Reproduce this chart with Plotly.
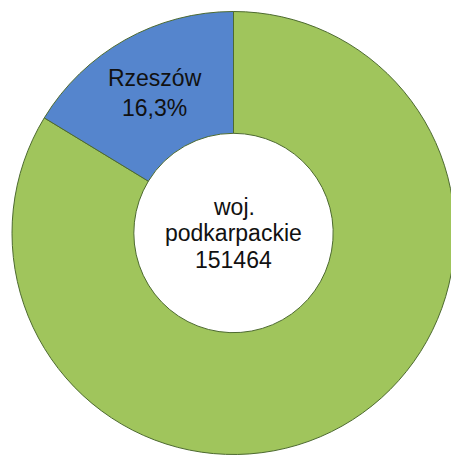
import plotly.graph_objects as go

labels = ["pozostałe", "Rzeszów"]
shares = [83.7, 16.3]
share_labels = ["", "Rzeszów<br>16,3%"]
center_lines = ["woj.", "podkarpackie", "151464"]
colors = ["#A0C55C", "#5585CD"]

FONT = "Liberation Sans, Arial, sans-serif"

fig = go.Figure(go.Pie(
    labels=labels,
    values=shares,
    text=share_labels,
    textinfo="text",
    textposition="inside",
    insidetextorientation="horizontal",
    hole=0.45,
    sort=False,
    direction="clockwise",
    rotation=0,
    marker=dict(colors=colors, line=dict(color="#4d6a30", width=1)),
    textfont=dict(family=FONT, size=23, color="#111111"),
    showlegend=False,
    hoverinfo="label+percent",
))

for i, line in enumerate(center_lines):
    fig.add_annotation(
        text=line, x=0.5, y=0.5, xref="paper", yref="paper",
        yshift=(1 - i) * 26.5, showarrow=False,
        font=dict(family=FONT, size=23, color="#111111"),
    )

# page body has an 8px default margin; margins compensate so the ring lands where the reference has it
fig.update_layout(
    width=459, height=458,
    margin=dict(l=4, r=12, t=3, b=11),
    paper_bgcolor="white", plot_bgcolor="white",
    uniformtext=dict(minsize=23, mode="show"),
)

fig.write_html("out.html")
